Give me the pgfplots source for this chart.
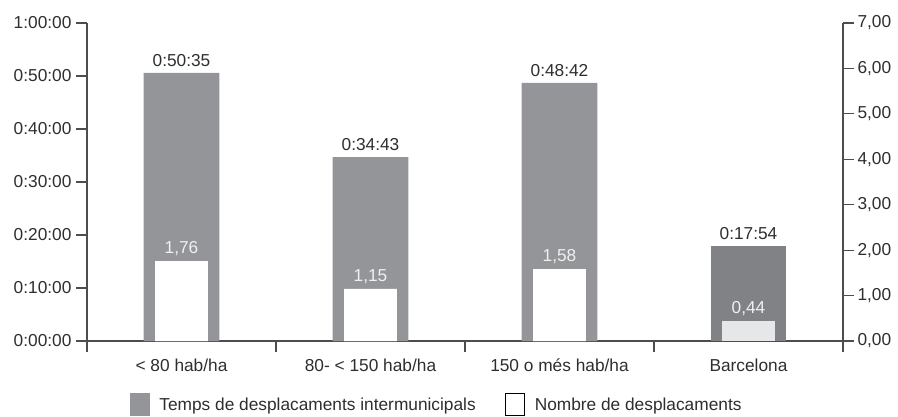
\documentclass[border=0pt]{standalone}
\usepackage{pgfplots}
\pgfplotsset{compat=1.18}
\usepackage{fontspec}
\setmainfont{Liberation Sans}
\definecolor{bargrey}{HTML}{939598}
\definecolor{bardark}{HTML}{808285}
\definecolor{lightbar}{HTML}{E6E7E8}
\definecolor{txtcol}{HTML}{2E2E2E}
\definecolor{axcol}{HTML}{4D4D4D}
\begin{document}
\begin{tikzpicture}[x=1pt,y=1pt,font=\fontsize{17.3}{20}\selectfont,text=txtcol]
\path[use as bounding box] (0,0) rectangle (898,416);
\begin{axis}[
  at={(87pt,75pt)}, anchor=south west,
  scale only axis, width=756pt, height=318pt,
  xmin=-0.5, xmax=3.5, ymin=0, ymax=60,
  axis y line*=left, axis x line*=bottom,
  axis line style={draw=axcol, line width=1.2pt, -},
  ytick={0,10,20,30,40,50,60},
  yticklabels={0:00:00,0:10:00,0:20:00,0:30:00,0:40:00,0:50:00,1:00:00},
  xtick={0,1,2,3},
  xticklabels={< 80 hab/ha,80- < 150 hab/ha,150 o més hab/ha,Barcelona},
  minor xtick={-0.5,0.5,1.5,2.5,3.5},
  tick align=outside,
  major tick length=11pt, minor tick length=11pt,
  y tick style={draw=axcol, line width=1.2pt},
  major x tick style={draw=none},
  minor x tick style={draw=axcol, line width=1.2pt},
  xticklabel style={yshift=-3pt},
  yticklabel style={xshift=-1pt},
  legend columns=2,
  legend style={at={(0.0569,-0.164)}, anchor=north west, draw=none, fill=none,
    inner sep=0pt, outer sep=0pt, nodes={inner sep=0pt, anchor=base west},
    /tikz/column sep=10pt,
    /tikz/every even column/.append style={column sep=29pt}},
  legend image code/.code={\draw[#1] (0pt,-5pt) rectangle (19pt,17pt);},
]
\addlegendimage{fill=bargrey, draw=bargrey}
\addlegendentry{Temps de desplacaments intermunicipals}
\addlegendimage{fill=white, draw=black, line width=1pt}
\addlegendentry{Nombre de desplacaments}
\addplot[ybar, bar width=0.4, bar shift=0pt, fill=bargrey, draw=none, forget plot,
  point meta=explicit symbolic, nodes near coords,
  every node near coord/.append style={text=txtcol, yshift=3pt}]
  coordinates {(0,50.583) [0:50:35] (1,34.717) [0:34:43] (2,48.7) [0:48:42]};
\addplot[ybar, bar width=0.4, bar shift=0pt, fill=bardark, draw=none, forget plot,
  point meta=explicit symbolic, nodes near coords,
  every node near coord/.append style={text=txtcol, yshift=3pt}]
  coordinates {(3,17.9) [0:17:54]};
\end{axis}
\begin{axis}[
  at={(87pt,75pt)}, anchor=south west,
  scale only axis, width=756pt, height=318pt,
  xmin=-0.5, xmax=3.5, ymin=0, ymax=7,
  axis y line*=right, axis x line=none,
  axis line style={draw=axcol, line width=1.2pt, -},
  ytick={0,1,2,3,4,5,6,7},
  tick align=outside,
  major tick length=11pt,
  y tick style={draw=axcol, line width=1.2pt},
  yticklabel style={/pgf/number format/fixed, /pgf/number format/fixed zerofill,
    /pgf/number format/precision=2, /pgf/number format/use comma,
    /pgf/number format/assume math mode=true, xshift=0pt},
]
\addplot[ybar, bar width=0.28, bar shift=0pt, fill=white, draw=none,
  point meta=explicit symbolic, nodes near coords,
  every node near coord/.append style={text=white!94!black, yshift=2pt}]
  coordinates {(0,1.76) [1,76] (1,1.15) [1,15] (2,1.58) [1,58]};
\addplot[ybar, bar width=0.28, bar shift=0pt, fill=lightbar, draw=none,
  point meta=explicit symbolic, nodes near coords,
  every node near coord/.append style={text=white!94!black, yshift=2pt}]
  coordinates {(3,0.44) [0,44]};
\end{axis}
\end{tikzpicture}
\end{document}
